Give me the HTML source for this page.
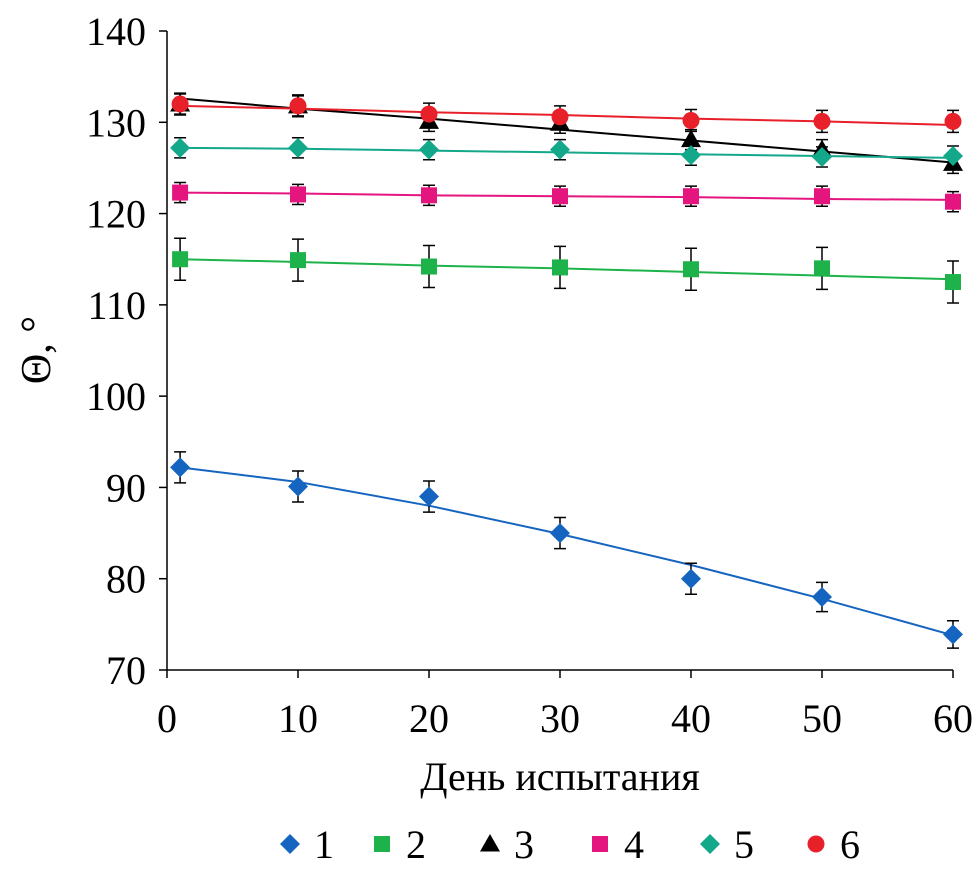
<!DOCTYPE html>
<html><head><meta charset="utf-8">
<style>
html,body{margin:0;padding:0;background:#fff;}
svg text{font-family:"Liberation Serif",serif;fill:#000;}
</style></head>
<body>
<svg id="chart" width="978" height="865" viewBox="0 0 978 865" xmlns="http://www.w3.org/2000/svg">
<g id="axes"></g><g id="plot"></g><g id="legend"></g>
</svg>
<script>
const days = [1,10,20,30,40,50,60];
const s1 = [92.2,90.1,89.0,85.0,80.0,78.0,73.9];
const s2 = [115.0,114.9,114.2,114.1,113.9,114.0,112.5];
const s3 = [132.0,131.8,130.1,129.9,128.1,127.0,125.5];
const s4 = [122.3,122.1,122.0,121.9,121.9,121.9,121.3];
const s5 = [127.2,127.2,127.0,127.0,126.4,126.2,126.3];
const s6 = [132.0,131.8,130.9,130.6,130.2,130.1,130.1];
const err1 = [1.7,1.7,1.7,1.7,1.7,1.6,1.5];
const err2 = [2.3,2.3,2.3,2.3,2.3,2.3,2.3];
const err3 = [1.1,1.1,1.1,1.1,1.1,1.1,1.1];
const err4 = [1.1,1.1,1.1,1.1,1.1,1.1,1.1];
const err5 = [1.1,1.1,1.1,1.1,1.1,1.1,1.1];
const err6 = [1.2,1.2,1.2,1.2,1.2,1.2,1.2];
const trend1 = [92.2,90.6,88.0,84.9,81.5,77.8,73.8];
const trend2 = [115.0,114.7,114.3,114.0,113.6,113.2,112.8];
const trend3 = [132.6,131.5,130.4,129.2,128.0,126.8,125.6];
const trend4 = [122.3,122.2,122.0,121.9,121.8,121.6,121.5];
const trend5 = [127.2,127.1,126.9,126.7,126.5,126.3,126.1];
const trend6 = [131.8,131.5,131.1,130.8,130.4,130.1,129.7];
const xTicks = [0,10,20,30,40,50,60];
const yTicks = [70,80,90,100,110,120,130,140];
const legendLabels = ["1","2","3","4","5","6"];

const X0=167,X1=953,Y0=670,Y1=31;
const xs=v=>X0+(v-0)/60*(X1-X0);
const ys=v=>Y0-(v-70)/70*(Y0-Y1);
const NS="http://www.w3.org/2000/svg";
function mk(p,tag,attrs,txt){const e=document.createElementNS(NS,tag);for(const k in attrs)e.setAttribute(k,attrs[k]);if(txt!==undefined)e.textContent=txt;p.appendChild(e);return e;}
const axes=document.getElementById('axes'),plot=document.getElementById('plot'),leg=document.getElementById('legend');

let a=mk(axes,'line',{x1:X0,y1:Y1,x2:X0,y2:Y0,stroke:'#000','stroke-width':1.5});


a=mk(axes,'line',{x1:X0,y1:Y0,x2:X1,y2:Y0,stroke:'#000','stroke-width':1.5});


yTicks.forEach(v=>{
  mk(axes,'line',{x1:X0-8,y1:ys(v),x2:X0,y2:ys(v),stroke:'#000','stroke-width':1.5});
  const t=mk(axes,'text',{x:X0-21,y:ys(v)+14,'text-anchor':'end','font-size':40},v);
  
  
});
xTicks.forEach(v=>{
  mk(axes,'line',{x1:xs(v),y1:Y0,x2:xs(v),y2:Y0+8,stroke:'#000','stroke-width':1.5});
  const t=mk(axes,'text',{x:xs(v),y:Y0+62,'text-anchor':'middle','font-size':40},v);
  
  
});
let t=mk(axes,'text',{x:560,y:790,'text-anchor':'middle','font-size':40},'День испытания');


t=mk(axes,'text',{x:0,y:0,'text-anchor':'middle','font-size':42,transform:'translate(50,350) rotate(-90)'},'Θ, °');



function marker(p,shape,cx,cy,color,s){
  let e;
  if(shape==='diamond') e=mk(p,'polygon',{points:`${cx},${cy-s} ${cx+s},${cy} ${cx},${cy+s} ${cx-s},${cy}`,fill:color});
  else if(shape==='square') e=mk(p,'rect',{x:cx-s*0.8,y:cy-s*0.8,width:s*1.6,height:s*1.6,fill:color});
  else if(shape==='triangle') e=mk(p,'polygon',{points:`${cx},${cy-s} ${cx+s},${cy+s*0.75} ${cx-s},${cy+s*0.75}`,fill:color});
  else e=mk(p,'circle',{cx:cx,cy:cy,r:s*0.85,fill:color});
  return e;
}
const series=[
 {v:s1,e:err1,tr:trend1,c:'#1565c0',sh:'diamond'},
 {v:s2,e:err2,tr:trend2,c:'#1db34a',sh:'square'},
 {v:s3,e:err3,tr:trend3,c:'#000000',sh:'triangle'},
 {v:s4,e:err4,tr:trend4,c:'#e5157f',sh:'square'},
 {v:s5,e:err5,tr:trend5,c:'#13a88a',sh:'diamond'},
 {v:s6,e:err6,tr:trend6,c:'#e8202a',sh:'circle'}];
series.forEach((s,i)=>{
  const g=mk(plot,'g',{});
  
  
  const pts=days.map((d,j)=>xs(d)+','+ys(s.tr[j])).join(' ');
  const l=mk(g,'polyline',{points:pts,fill:'none',stroke:s.c,'stroke-width':2});
  
  
  days.forEach((d,j)=>{
    const x=xs(d),yt=ys(s.v[j]+s.e[j]),yb=ys(s.v[j]-s.e[j]);
    mk(g,'path',{d:`M${x},${yt}V${yb}M${x-6},${yt}H${x+6}M${x-6},${yb}H${x+6}`,stroke:'#000','stroke-width':1.5,fill:'none'});
    const m=marker(g,s.sh,x,ys(s.v[j]),s.c,10);
    
    
  });
});
const legX=[290,382,490,600,710,816];
series.forEach((s,i)=>{
  const g=mk(leg,'g',{});
  
  
  marker(g,s.sh,legX[i],844,s.c,10);
  mk(g,'text',{x:legX[i]+24,y:858,'font-size':40},legendLabels[i]);
});
</script>
</body></html>
